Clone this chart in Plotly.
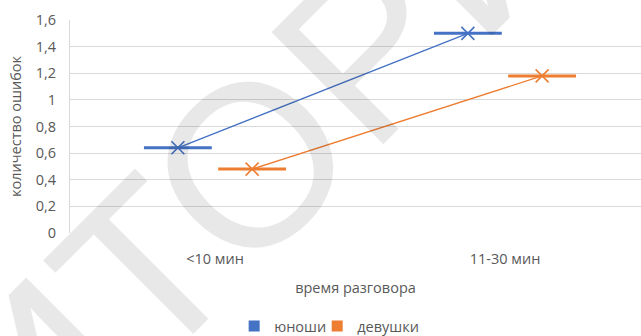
import plotly.graph_objects as go

# Categories and mean error counts per group
categories = ["<10 мин", "11-30 мин"]
boys = [0.64, 1.50]
girls = [0.48, 1.18]
series_names = ["юноши", "девушки"]
colors = ["#4472C4", "#ED7D31"]
legend_ids = ["legend", "legend2"]

# Horizontal placement of each series inside its category, and bar half-width
offsets = [-0.128, 0.128]
half_width = 0.117

y_ticks = [0, 0.2, 0.4, 0.6, 0.8, 1.0, 1.2, 1.4, 1.6]
y_tick_text = ["0", "0,2", "0,4", "0,6", "0,8", "1", "1,2", "1,4", "1,6"]

font_family = "Open Sans, Liberation Sans, sans-serif"
text_color = "#595959"

fig = go.Figure()

for name, vals, off, col, lg in zip(series_names, [boys, girls], offsets, colors, legend_ids):
    xs = [i + off for i in range(len(categories))]
    fig.add_trace(go.Scatter(
        x=xs, y=vals, mode="lines+markers", name=name, showlegend=False,
        line=dict(color=col, width=1.3),
        marker=dict(symbol="x-thin-open", size=13, line=dict(color=col, width=1.6)),
        error_x=dict(type="constant", value=half_width, symmetric=True,
                     color=col, thickness=3, width=0),
    ))
    # legend swatch
    fig.add_trace(go.Scatter(
        x=[None], y=[None], mode="markers", name=name, legend=lg,
        marker=dict(symbol="square", size=11, color=col),
    ))

# light watermark lettering
fig.add_annotation(
    text="ИТОРИ", x=0.33, y=0.36, xref="paper", yref="paper",
    xanchor="center", yanchor="middle",
    showarrow=False, textangle=-45,
    font=dict(family="Liberation Sans, sans-serif", size=230, color="rgba(0,0,0,0.09)"),
)

legend_style = dict(orientation="h", xanchor="left", y=-0.437, yanchor="middle",
                    bgcolor="rgba(0,0,0,0)",
                    font=dict(size=14.5, color=text_color), itemwidth=30)

fig.update_layout(
    width=641, height=336,
    margin=dict(l=70, r=0, t=20, b=103, autoexpand=False),
    paper_bgcolor="white", plot_bgcolor="white",
    font=dict(family=font_family, size=14.5, color=text_color),
    legend=dict(x=0.2875, **legend_style),
    legend2=dict(x=0.4329, **legend_style),
    xaxis=dict(
        range=[-0.5, 1.469], tickmode="array",
        tickvals=list(range(len(categories))), ticktext=categories,
        showgrid=False, zeroline=False, showline=False, ticks="",
        ticklabelstandoff=15,
        title=dict(text="время разговора", standoff=16, font=dict(size=14.5, color=text_color)),
    ),
    yaxis=dict(
        range=[0, 1.6], tickmode="array", tickvals=y_ticks, ticktext=y_tick_text,
        showgrid=True, gridcolor="#d9d9d9", gridwidth=1,
        zeroline=False, showline=True, linecolor="#d9d9d9", linewidth=1,
        ticks="", ticklabelstandoff=10,
        title=dict(text="количество ошибок", standoff=10, font=dict(size=14.5, color=text_color)),
    ),
)

fig.write_html("out.html")
